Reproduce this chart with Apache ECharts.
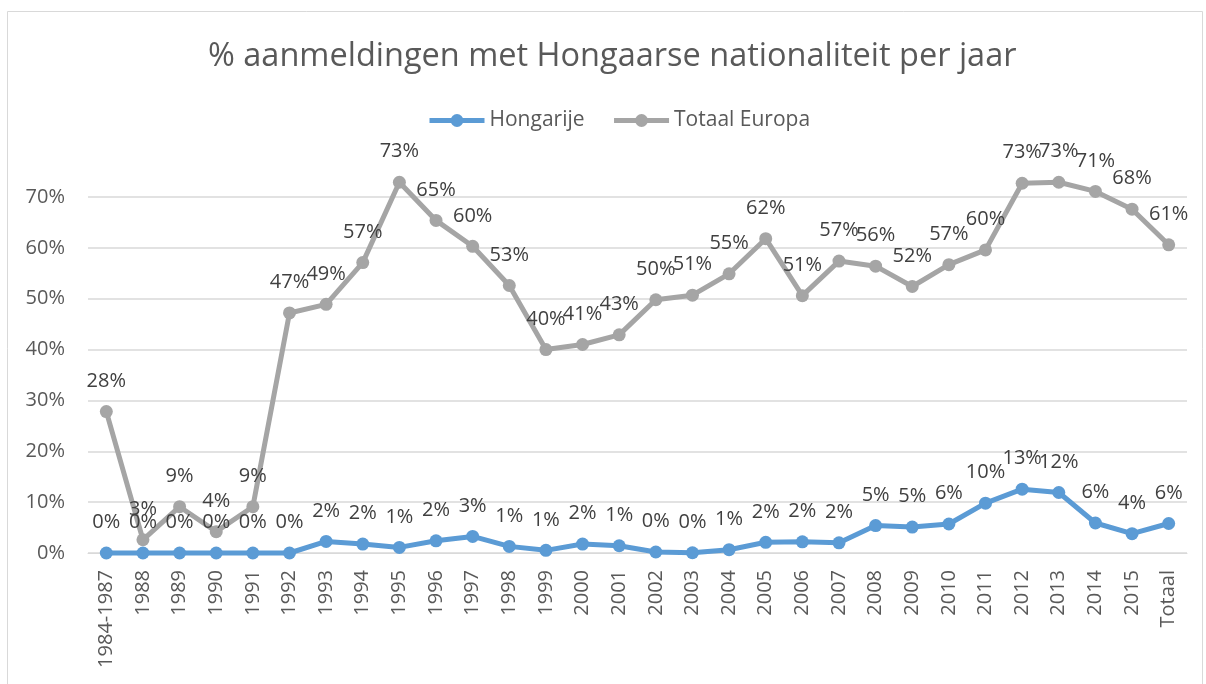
<!DOCTYPE html>
<html><head><meta charset="utf-8">
<script src="https://cdn.jsdelivr.net/npm/echarts@6/dist/echarts.min.js"></script>
<style>html,body{margin:0;padding:0;background:#fff}#c{width:1206px;height:684px}</style>
</head><body><div id="c"></div>
<script>
const categories = ['1984-1987','1988','1989','1990','1991','1992','1993','1994','1995','1996','1997','1998','1999','2000','2001','2002','2003','2004','2005','2006','2007','2008','2009','2010','2011','2012','2013','2014','2015','Totaal'];
const hongarije = [0.0,0.0,0.0,0.0,0.0,0.0,2.27,1.76,1.1,2.4,3.26,1.3,0.52,1.76,1.43,0.2,0.05,0.65,2.1,2.2,2.0,5.4,5.1,5.7,9.8,12.55,11.9,5.9,3.8,5.8];
const totaalEuropa = [27.8,2.6,9.1,4.2,9.1,47.2,48.9,57.1,72.9,65.4,60.3,52.6,40.0,41.0,42.9,49.8,50.7,54.9,61.8,50.6,57.4,56.4,52.4,56.7,59.6,72.7,72.9,71.1,67.6,60.6];
const yTicks = [0,10,20,30,40,50,60,70];

const FONT = "'Open Sans', sans-serif";
const chart = echarts.init(document.getElementById('c'));
const lbl = {show:true, position:'top', distance:14, color:'#404040', fontSize:20, fontFamily:FONT,
  formatter: p => Math.round(p.value) + '%'};
chart.setOption({
  animation:false,
  backgroundColor:'#fff',
  graphic:[{type:'rect', shape:{x:7.5,y:11.5,width:1195,height:700}, style:{fill:'none', stroke:'#D9D9D9', lineWidth:1}, silent:true}],
  title:{text:'% aanmeldingen met Hongaarse nationaliteit per jaar', left:203, top:35,
    textStyle:{fontFamily:FONT, fontSize:32.5, fontWeight:'normal', color:'#595959'}},
  legend:{left:427, top:110, padding:0, itemWidth:55, itemHeight:16, itemGap:27, itemTextGap:3,
    lineStyle:{width:5},
    textStyle:{fontFamily:FONT, fontSize:21, color:'#595959'}},
  grid:{left:88, right:19, top:197, bottom:131, containLabel:false},
  xAxis:{type:'category', data:categories, boundaryGap:true,
    axisLine:{show:true, lineStyle:{color:'#D9D9D9', width:1}}, axisTick:{show:false},
    axisLabel:{rotate:90, margin:17, fontFamily:FONT, fontSize:20, color:'#595959', interval:0}},
  yAxis:{type:'value', min:yTicks[0], max:yTicks[yTicks.length-1], interval:10,
    axisLine:{show:false}, axisTick:{show:false},
    splitLine:{lineStyle:{color:'#D9D9D9', width:1.5}},
    axisLabel:{margin:23, fontFamily:FONT, fontSize:20, color:'#595959', formatter:'{value}%'}},
  series:[
    {name:'Hongarije', type:'line', data:hongarije, clip:false, symbol:'circle', symbolSize:13,
      color:'#5B9BD5', lineStyle:{width:5, color:'#5B9BD5'}, itemStyle:{color:'#5B9BD5'}, label:lbl, z:3},
    {name:'Totaal Europa', type:'line', data:totaalEuropa, clip:false, symbol:'circle', symbolSize:13,
      color:'#A5A5A5', lineStyle:{width:5, color:'#A5A5A5'}, itemStyle:{color:'#A5A5A5'}, label:lbl, z:2}
  ]
});
</script></body></html>
